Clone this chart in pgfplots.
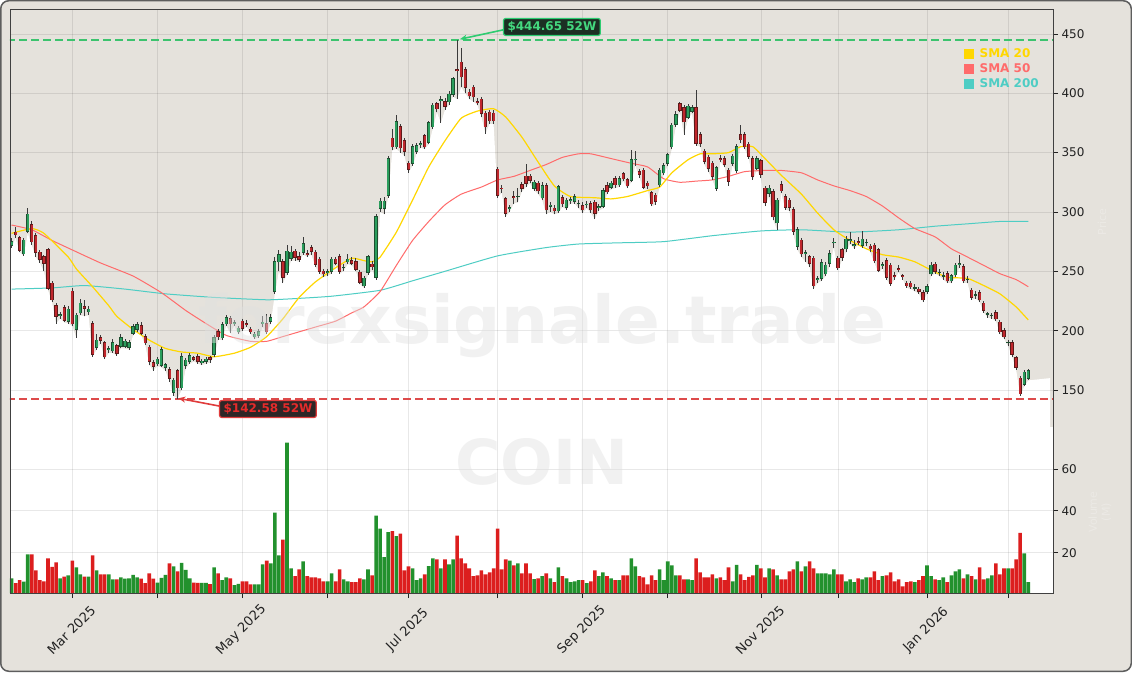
\documentclass[border=0pt]{standalone}
\usepackage{pgfplots}
\pgfplotsset{compat=1.18}
\usepackage{pgfplotstable}
\usepackage{fontspec}
\setmainfont{DejaVu Sans}
\usetikzlibrary{arrows.meta}

\definecolor{bg}{HTML}{E5E2DC}
\definecolor{frameb}{HTML}{5E5E5E}
\definecolor{axframe}{HTML}{404040}
\definecolor{tickc}{HTML}{222222}
\definecolor{gfill}{HTML}{2A9D5C}
\definecolor{gedge}{HTML}{1D4F30}
\definecolor{rfill}{HTML}{C0272D}
\definecolor{redge}{HTML}{5E1A1A}
\definecolor{wickc}{HTML}{3A3A3A}
\definecolor{vgreen}{HTML}{22912D}
\definecolor{vred}{HTML}{DC1E1E}
\definecolor{smaA}{HTML}{FFD700}
\definecolor{smaB}{HTML}{FF6B6B}
\definecolor{smaC}{HTML}{4ECDC4}
\definecolor{hic}{HTML}{3CC36E}
\definecolor{loc}{HTML}{DD4B4B}
\definecolor{gbox}{HTML}{1C2F24}
\definecolor{gbord}{HTML}{2ECC71}
\definecolor{gtext}{HTML}{44D97F}
\definecolor{rbox}{HTML}{2E2626}
\definecolor{rbord}{HTML}{E03C3C}
\definecolor{rtext}{HTML}{E52B2B}

\pgfplotstableread{
i o h l c v
0 272 278 270 275 7.8
1 283 287 278 281 5.5
2 278 280 266 268 6.9
3 265 278 263 276 6.2
4 284 303 282 298 19.2
5 289 292 272 275 19.2
6 280 282 262 266 11.6
7 266 268 257 260 6.9
8 262 264 250 257 6.4
9 268 270 234 236 17.3
10 240 242 224 226 13.3
11 221 223 206 212 15.4
12 213 216 210 213.5 7.8
13 219 222 207 209 8.6
14 208 221 206 218 9.2
15 233 236 204 206 16.3
16 201 215 194 213 13.0
17 215 227 213 223 9.7
18 220 226 212 219 8.6
19 216 221 213 218 8.6
20 206 208 178 180 18.7
21 186 197 184 192 11.6
22 194 196 189 192 9.7
23 190 191 176 178 9.7
24 184 187 181 184.5 9.7
25 183 193 181 190 7.3
26 187 189 179 181 7.3
27 187 197 185 194 8.3
28 187 193 185 191 7.6
29 186 192 184 190 7.8
30 198 206 196 203 9.5
31 201 207 199 205 8.3
32 204 207 196 198 7.6
33 195 197 188 190 5.5
34 186 188 171 174 10.2
35 173 175 166 170 7.6
36 172 178 170 176 5.8
37 171 186 169 184 8.0
38 169 173 166 171 9.5
39 167 169 157 160 14.9
40 148 160 145 158 13.5
41 166 168 142.6 152 11.1
42 152 181 150 178 15.2
43 171 177 168 175 11.8
44 174 181 172 179 7.8
45 177 179 174 176 5.8
46 178 180 172 174 5.6
47 173 176 171 174 5.6
48 174 178 172 176 5.6
49 177 179 173 176 5.0
50 180 196 178 194 13.0
51 199 201 192 195 10.2
52 194 207 192 205 6.9
53 206 213 204 211 8.3
54 210 212 198 206 7.8
55 206 209 204 206.5 4.6
56 199 204 197 202 5.1
57 208 210 200 202 6.4
58 206 209 203 205 6.4
59 201 203 197 199 4.9
60 195 199 193 197 4.9
61 196 201 194 199 4.9
62 206 212 203 207 14.4
63 206 214 197 199 16.3
64 208 214 206 211 14.9
65 233 262 231 258 39.1
66 258 268 250 264 18.7
67 258 260 240 245 26.3
68 249 272 247 267 72.6
69 261 271 259 266 12.5
70 267 269 259 262 8.8
71 262 266 258 260 12.1
72 266 279 264 273 15.9
73 265 268 262 264 8.8
74 270 272 264 267 8.3
75 266 268 254 256 8.3
76 260 262 248 250 7.8
77 250 252 245 248 6.4
78 249 252 246 249.5 6.4
79 250 262 248 260 10.2
80 260 262 255 257 6.4
81 262 265 248 250 12.1
82 253 256 250 253 7.3
83 258 265 256 260 6.4
84 259 262 255 257 6.0
85 258 261 250 252 6.0
86 249 251 239 241 7.8
87 238 246 236 244 7.3
88 249 264 247 262 12.1
89 256 259 251 254 9.2
90 245 298 243 296 37.7
91 303 312 300 309 31.5
92 303 313 298 309 17.9
93 314 347 312 345 29.8
94 362 370 352 355 30.3
95 355 382 353 376 27.9
96 372 374 350 354 29.1
97 360 362 347 351 11.6
98 341 343 333 336 13.5
99 341 357 339 355 12.5
100 351 358 349 356 6.9
101 357 360 354 357.5 7.8
102 364 366 353 355 9.7
103 359 377 357 375 13.6
104 372 392 370 390 17.3
105 391 393 384 387 16.8
106 394 398 375 394.5 12.5
107 393 396 386 389 16.8
108 393 402 390 399 14.4
109 399 414 397 412 16.8
110 420 444.65 395 419 28.2
111 426 438 405 414 17.3
112 420 422 400 405 14.9
113 401 404 395 398 12.5
114 405 407 393 397 8.8
115 393 396 390 392.5 9.2
116 395 397 380 383 11.6
117 383 385 366 372 9.7
118 384 386 374 377 10.6
119 383 386 374 377 12.5
120 336 338 312 314 31.5
121 320 323 316 319.5 12.1
122 311 313 296 299 16.8
123 303 306 300 303.5 16.3
124 313 318 307 312.5 14.0
125 313 320 308 313 14.9
126 323 325 317 320 10.2
127 330 340 321 324 14.9
128 330 332 324 327 10.2
129 320 327 318 325 7.4
130 324 326 315 318 7.8
131 312 325 310 322 8.8
132 322 324 298 302 10.2
133 305 308 300 305.5 7.8
134 303 306 298 301 6.0
135 301 323 299 321 13.0
136 312 314 304 307 8.8
137 304 312 302 310 7.8
138 310 313 307 310.5 6.0
139 309 315 307 313 6.4
140 307 310 303 307 6.9
141 305 308 299 302 6.9
142 306 309 303 306.5 5.5
143 307 309 299 302 6.4
144 308 310 294 299 11.6
145 304 307 301 304.5 8.8
146 305 320 303 318 10.6
147 322 325 315 317 8.8
148 321 326 319 324 7.8
149 328 330 320 323 6.9
150 323 330 321 328 6.9
151 332 334 326 328 9.2
152 327 329 320 322 9.2
153 327 352 325 344 17.3
154 344 351 339 344.5 13.5
155 334 336 329 332 8.8
156 335 337 319 321 8.3
157 324 326 319 322 4.9
158 316 318 305 307 9.2
159 314 316 306 309 6.9
160 323 337 321 335 12.1
161 333 341 331 339 6.9
162 341 350 339 348 15.9
163 355 375 353 373 14.0
164 374 385 372 382 9.2
165 391 393 384 386 9.2
166 388 390 365 376 7.3
167 380 391 378 389 7.3
168 385 390 383 388 6.9
169 388 403 356 358 17.3
170 365 367 355 358 10.6
171 351 353 340 343 8.3
172 346 348 334 337 8.3
173 341 343 327 330 9.7
174 320 339 318 337 7.8
175 345 348 342 344.5 8.3
176 345 347 338 340 6.9
177 335 337 322 326 13.0
178 341 349 339 347 6.4
179 335 357 333 355 14.2
180 365 373 358 361 9.7
181 365 367 353 355 6.9
182 357 359 345 347 8.5
183 345 347 327 330 9.2
184 337 347 335 345 14.2
185 343 345 329 332 12.5
186 320 322 305 308 8.3
187 316 323 313 320 12.5
188 317 319 293 296 12.1
189 291 312 285 310 9.2
190 323 326 316 318 7.3
191 313 315 302 304 7.3
192 310 312 301 304 11.1
193 302 304 281 284 12.1
194 271 287 268 285 15.9
195 276 278 262 265 11.1
196 265 268 258 265.5 13.5
197 262 264 254 257 15.9
198 261 263 235 238 12.5
199 243 246 240 243.5 10.2
200 244 260 242 257 10.2
201 248 258 246 255 10.2
202 257 268 254 265 9.7
203 274 278 270 274.5 12.1
204 261 263 251 253 9.7
205 268 270 259 262 9.7
206 269 280 266 277 6.4
207 276 283 273 276.5 7.3
208 272 276 269 272.5 6.0
209 275 279 272 274.5 7.8
210 272 284 270 277 7.3
211 274 277 271 274 8.3
212 271 273 266 269 8.3
213 272 274 257 259 11.1
214 268 270 249 251 6.9
215 255 258 252 255.5 8.8
216 259 261 243 245 9.2
217 255 257 238 240 10.6
218 246 249 243 245.5 6.4
219 252 255 249 251.5 7.3
220 246 248 243 245.5 4.0
221 240 242 236 238 6.0
222 240 242 235 237 6.4
223 236 239 233 236 6.0
224 235 237 231 233 6.9
225 232 234 224 226 8.8
226 233 239 231 237 14.0
227 248 258 246 255 8.8
228 256 258 248 250 7.3
229 249 252 246 249 6.9
230 246 249 243 246 8.3
231 248 250 240 242 6.0
232 242 248 240 246 9.2
233 247 257 245 255 11.1
234 256 264 253 256.5 12.1
235 254 256 240 242 7.8
236 243 246 240 243 9.7
237 234 236 226 228 8.8
238 230 233 227 230 7.3
239 232 234 224 226 13.0
240 223 225 215 217 7.3
241 214 216 211 214 7.8
242 213 215 210 213 9.2
243 215 217 208 210 14.9
244 207 209 197 199 9.7
245 200 202 193 195 12.5
246 190 192 187 190 12.5
247 190 192 178 180 12.5
248 177 179 167 169 16.8
249 160 162 145 147 29.5
250 155 167 153 165 19.7
251 160 168 158 166 6.0
}\cdata

\pgfplotstableread{
i s
0 282
5 286
8 282
14 262
16 252
20 237
24 221
26 212
30 201
34 192
38 185
42 182
46 181
50 178
55 181
59 186
63 195
67 210
71 228
75 241
80 253
84 261
87 259
89 258
91 262
95 283
99 310
103 338
107 360
111 379
115 385
119 387
122 380
126 363
130 342
134 322
138 313
144 312
148 311
152 313
157 318
160 321
163 333
167 344
170 349
173 349
177 350
180 355
183 355
186 345
190 331
195 315
199 299
203 285
207 276
211 269
215 264
219 262
223 258
227 251
231 245
236 244
240 238
244 231
248 220
251 209
}\smaAt

\pgfplotstableread{
i s
0 289
5 285
10 276
15 268
22 257
30 246
37 232
43 217
48 206
53 196
59 191
63 191
67 195
71 199
75 203
80 208
84 215
87 220
91 233
95 255
99 276
103 292
107 306
111 315
116 321
120 327
124 330
128 335
132 340
136 346
140 349
143 349
148 345
153 341
157 338
161 328
165 325
169 326
173 327
177 330
181 334
186 335
190 335
195 333
199 327
203 322
207 318
211 313
215 305
219 295
223 286
228 279
232 269
236 262
240 255
244 248
248 243
251 237
}\smaBt

\pgfplotstableread{
i s
0 235
10 236
18 238
28 235
38 231
50 228
63 226
70 227
79 229
91 234
99 242
107 250
120 263
132 270
140 273
150 274
161 275
173 280
185 284
195 285
207 283
219 285
228 288
236 290
244 292
251 292
}\smaCt

\begin{document}
\begin{tikzpicture}[x=1pt,y=1pt]
\useasboundingbox (0,0) rectangle (1132,672);
\draw[line width=1.5pt, draw=frameb, fill=bg, rounded corners=8pt] (0.75,0.75) rectangle (1131.25,671.25);

% background: white area under the lows
\begin{axis}[
  at={(10pt,245pt)}, anchor=south west, scale only axis,
  width=1043pt, height=417pt,
  xmin=-0.38, xmax=257.1, ymin=118.8, ymax=470.2,
  hide axis,
]
\addplot[fill=white, draw=none] table[x=i,y=l]{\cdata} \closedcycle;
\addplot[fill=white, draw=none] coordinates {(250.9,158) (256.4,160) (256.4,100) (250.9,100)};
\addplot[fill=white, draw=none] coordinates {(-1,270) (0.1,270) (0.1,100) (-1,100)};
\end{axis}

\begin{axis}[
  at={(10pt,245pt)}, anchor=south west, scale only axis,
  width=1043pt, height=417pt,
  xmin=-0.38, xmax=257.1, ymin=118.8, ymax=470.2,
  axis line style={draw=none},
  xtick={15,36,57,78,98,120,141,162,185,204,226,246}, xticklabels={},
  x tick style={draw=none},
  ytick={150,200,250,300,350,400,450}, ytick pos=right, yticklabel pos=right,
  tick align=outside, major tick length=5pt,
  y tick style={color=tickc, line width=0.8pt},
  xmajorgrids, ymajorgrids,
  grid style={color=black, opacity=0.09, line width=0.8pt},
  tick label style={font=\fontsize{12}{14}\selectfont, color=tickc},
  /pgf/number format/assume math mode=true,
  legend style={at={(0.9875,0.911)}, anchor=north east, draw=none, fill=none,
    font=\fontsize{12}{14}\selectfont\bfseries, row sep=2.5pt, column sep=5pt, inner sep=0pt,
    nodes={inner sep=1pt}},
  legend cell align=left,
]
\addlegendimage{legend image code/.code={\fill[smaA] (0pt,-4.5pt) rectangle (9pt,4.5pt);}}
\addlegendentry[text=smaA]{SMA 20}
\addlegendimage{legend image code/.code={\fill[smaB] (0pt,-4.5pt) rectangle (9pt,4.5pt);}}
\addlegendentry[text=smaB]{SMA 50}
\addlegendimage{legend image code/.code={\fill[smaC] (0pt,-4.5pt) rectangle (9pt,4.5pt);}}
\addlegendentry[text=smaC]{SMA 200}

\addplot[color=smaC, line width=1pt, smooth, tension=0.3] table[x=i,y=s]{\smaCt};
\addplot[color=smaB, line width=1pt, smooth, tension=0.3] table[x=i,y=s]{\smaBt};
\addplot[color=smaA, line width=1.2pt, smooth, tension=0.3] table[x=i,y=s]{\smaAt};

\addplot[color=hic, dash pattern=on 8pt off 4pt, line width=1.8pt] coordinates {(-1,444.65) (258,444.65)};
\addplot[color=loc, dash pattern=on 8pt off 4pt, line width=1.8pt] coordinates {(-1,142.58) (258,142.58)};

% wicks
\addplot[draw=wickc, line width=0.9pt, quiver={u=0, v={\thisrow{h}-\thisrow{l}}}]
  table[x=i, y=l]{\cdata};
% up bodies
\addplot[draw=gedge, line width=3.3pt, quiver={u=0, v={\thisrow{c}-\thisrow{o}+1}},
  restrict expr to domain={\thisrow{c}-\thisrow{o}}{0:1000}]
  table[x=i, y expr={\thisrow{o}-0.5}]{\cdata};
\addplot[draw=gfill, line width=2pt, quiver={u=0, v={\thisrow{c}-\thisrow{o}}},
  restrict expr to domain={\thisrow{c}-\thisrow{o}}{0:1000}]
  table[x=i, y=o]{\cdata};
% down bodies
\addplot[draw=redge, line width=3.3pt, quiver={u=0, v={\thisrow{o}-\thisrow{c}+1}},
  restrict expr to domain={\thisrow{c}-\thisrow{o}}{-1000:-0.001}]
  table[x=i, y expr={\thisrow{c}-0.5}]{\cdata};
\addplot[draw=rfill, line width=2pt, quiver={u=0, v={\thisrow{o}-\thisrow{c}}},
  restrict expr to domain={\thisrow{c}-\thisrow{o}}{-1000:-0.001}]
  table[x=i, y=c]{\cdata};

\draw[color=gbord, line width=1.6pt, -{Stealth[length=7pt,width=6pt]}] (axis cs:121.3,453.4) -- (axis cs:110.7,445.6);
\draw[color=rbord, line width=1.6pt, -{Stealth[length=7pt,width=6pt]}] (axis cs:51.2,136.5) -- (axis cs:41.2,143.0);
\node[fill=gbox, draw=gbord, line width=1.2pt, rounded corners=2pt, text=gtext,
  font=\fontsize{12}{14}\selectfont\bfseries, inner xsep=4pt, inner ysep=3pt]
  at (axis cs:133.4,455.9) {\$444.65 52W};
\node[fill=rbox, draw=rbord, line width=1.2pt, rounded corners=2pt, text=rtext,
  font=\fontsize{12}{14}\selectfont\bfseries, inner xsep=4pt, inner ysep=3pt]
  at (axis cs:63.3,134.0) {\$142.58 52W};
\end{axis}

\begin{axis}[
  at={(10pt,79pt)}, anchor=south west, scale only axis,
  width=1043pt, height=166pt,
  xmin=-0.38, xmax=257.1, ymin=0.8, ymax=80,
  axis background/.style={fill=white},
  axis line style={draw=none},
  ybar, bar width=0.88, bar shift=0pt,
  xtick={15,36,57,78,98,120,141,162,185,204,226,246},
  xticklabels={Mar 2025,,May 2025,,Jul 2025,,Sep 2025,,Nov 2025,,Jan 2026,},
  xtick pos=bottom,
  ytick={20,40,60}, ytick pos=right, yticklabel pos=right,
  tick align=outside, major tick length=5pt,
  tick style={color=tickc, line width=0.8pt},
  xmajorgrids, ymajorgrids,
  grid style={color=black, opacity=0.09, line width=0.8pt},
  yticklabel style={font=\fontsize{12}{14}\selectfont, color=tickc},
  xticklabel style={font=\fontsize{13}{15}\selectfont, color=tickc, yshift=-32pt, xshift=-1pt, rotate=45, anchor=center},
  /pgf/number format/assume math mode=true,
]
\addplot[fill=vgreen, draw=none, restrict expr to domain={\thisrow{c}-\thisrow{o}}{0:1000}] table[x=i,y=v]{\cdata};
\addplot[fill=vred, draw=none, restrict expr to domain={\thisrow{c}-\thisrow{o}}{-1000:-0.001}] table[x=i,y=v]{\cdata};
\end{axis}

\draw[color=axframe, line width=1pt] (10,79) rectangle (1053,662);

\node[font=\fontsize{66}{66}\selectfont\bfseries, text=black!12, text opacity=0.45] at (542,346) {forexsignale.trade};
\node[font=\fontsize{62}{62}\selectfont\bfseries, text=black!12, text opacity=0.45] at (542,210) {COIN};
\node[rotate=90, font=\fontsize{11}{13}\selectfont, text=white, text opacity=0.25] at (1102,450) {Price};
\node[rotate=90, align=center, font=\fontsize{11}{13}\selectfont, text=white, text opacity=0.25] at (1100,160) {Volume\\(M)};
\end{tikzpicture}
\end{document}
